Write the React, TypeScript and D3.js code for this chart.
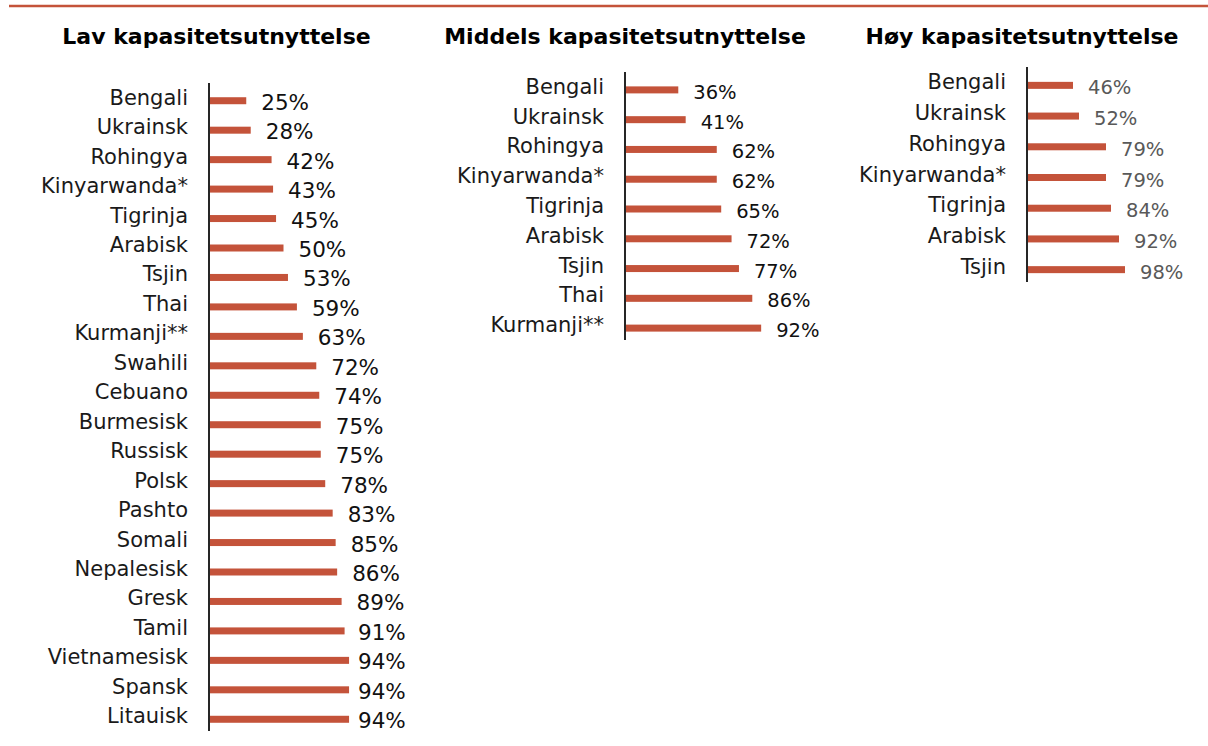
import React from "react";
import * as d3 from "d3";

// Low capacity utilisation
const lowLanguages = [
  "Bengali", "Ukrainsk", "Rohingya", "Kinyarwanda*", "Tigrinja", "Arabisk",
  "Tsjin", "Thai", "Kurmanji**", "Swahili", "Cebuano", "Burmesisk", "Russisk",
  "Polsk", "Pashto", "Somali", "Nepalesisk", "Gresk", "Tamil", "Vietnamesisk",
  "Spansk", "Litauisk",
];
const lowValues = [25, 28, 42, 43, 45, 50, 53, 59, 63, 72, 74, 75, 75, 78, 83, 85, 86, 89, 91, 94, 94, 94];

// Medium capacity utilisation
const midLanguages = [
  "Bengali", "Ukrainsk", "Rohingya", "Kinyarwanda*", "Tigrinja", "Arabisk",
  "Tsjin", "Thai", "Kurmanji**",
];
const midValues = [36, 41, 62, 62, 65, 72, 77, 86, 92];

// High capacity utilisation
const highLanguages = ["Bengali", "Ukrainsk", "Rohingya", "Kinyarwanda*", "Tigrinja", "Arabisk", "Tsjin"];
const highValues = [46, 52, 79, 79, 84, 92, 98];

const titles = ["Lav kapasitetsutnyttelse", "Middels kapasitetsutnyttelse", "Høy kapasitetsutnyttelse"];

const RED = "#c4533a";
const FONT = "DejaVu Sans";

type PanelProps = {
  title: string;
  titleX: number;
  labels: string[];
  values: number[];
  axisX: number;
  top: number;
  bottom: number;
  pxPer100: number;
  valueSize: number;
  valueColor: string;
  labelRight?: number;
};

function Panel(p: PanelProps) {
  const y = d3.scaleBand<string>().domain(p.labels).range([p.top, p.bottom]);
  const x = d3.scaleLinear().domain([0, 100]).range([p.axisX, p.axisX + p.pxPer100]);
  const fmt = (v: number) => `${v}%`;

  return (
    <g>
      <text x={p.titleX} y={44} textAnchor="middle" fontFamily={FONT} fontWeight="bold" fontSize={22} fill="#000">
        {p.title}
      </text>
      {p.labels.map((name, i) => {
        const cy = (y(name) as number) + y.bandwidth() / 2 + 3;
        const end = x(p.values[i]);
        let lx = end + 15;
        if (p.labelRight) lx = Math.min(lx, p.labelRight - 48);
        return (
          <g key={name}>
            <rect x={p.axisX} y={cy - 3.5} width={end - p.axisX} height={7} fill={RED} />
            <text x={p.axisX - 21} y={cy + 4} textAnchor="end" fontFamily={FONT} fontSize={21} fill="#1a1a1a">
              {name}
            </text>
            <text x={lx} y={cy + 9} fontFamily={FONT} fontSize={p.valueSize} fill={p.valueColor}>
              {fmt(p.values[i])}
            </text>
          </g>
        );
      })}
      <line x1={p.axisX} x2={p.axisX} y1={p.top} y2={p.bottom} stroke="#262626" strokeWidth={2} />
    </g>
  );
}

export default function App() {
  return (
    <svg
      width={1208}
      height={746}
      style={{ position: "absolute", left: 0, top: 0, background: "#fff" }}
    >
      <line x1={9} x2={1208} y1={6} y2={6} stroke={RED} strokeWidth={2.5} />
      <Panel
        title={titles[0]}
        titleX={216.5}
        labels={lowLanguages}
        values={lowValues}
        axisX={209}
        top={83}
        bottom={731}
        pxPer100={149}
        valueSize={21.5}
        valueColor="#111"
        labelRight={406}
      />
      <Panel
        title={titles[1]}
        titleX={625}
        labels={midLanguages}
        values={midValues}
        axisX={625}
        top={72}
        bottom={340}
        pxPer100={148}
        valueSize={19.5}
        valueColor="#111"
      />
      <Panel
        title={titles[2]}
        titleX={1022}
        labels={highLanguages}
        values={highValues}
        axisX={1027}
        top={67}
        bottom={282}
        pxPer100={100}
        valueSize={19.5}
        valueColor="#595959"
      />
    </svg>
  );
}
